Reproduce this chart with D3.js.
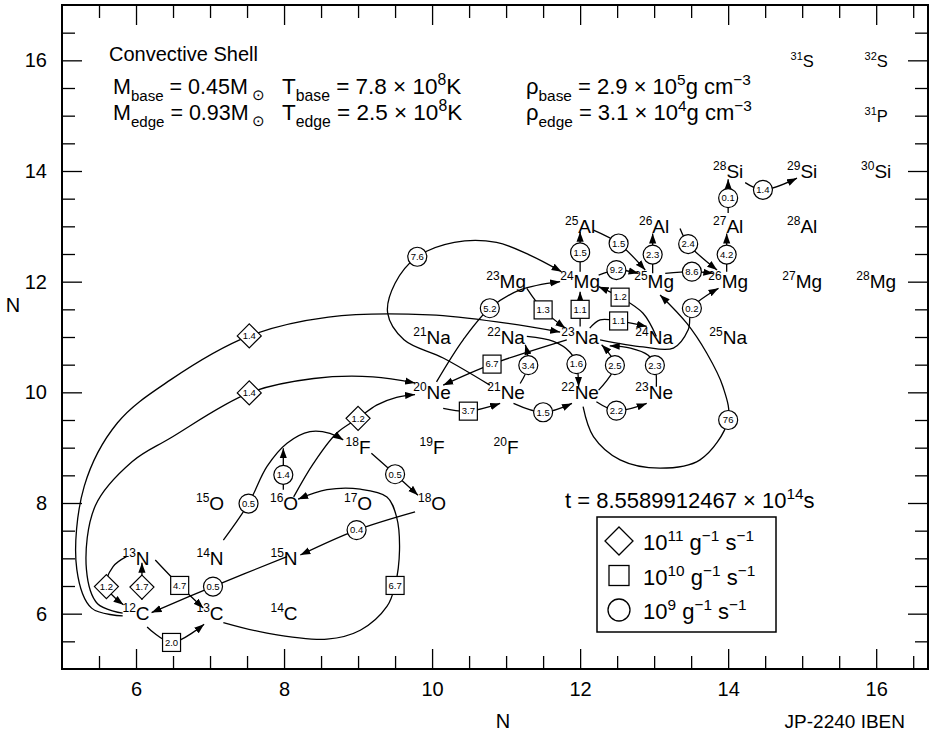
<!DOCTYPE html>
<html>
<head>
<meta charset="utf-8">
<script src="https://cdn.jsdelivr.net/npm/d3@7"></script>
<style>
  body { margin: 0; background: #fff; }
  svg { display: block; }
  text { font-family: "Liberation Sans", Arial, Helvetica, sans-serif; fill: #000; }
</style>
</head>
<body>
<svg id="chart" width="944" height="745"></svg>
<script>
// ---- nuclides on the chart: [mass number, element, N (neutrons), Z (protons)]
const nuclides = [
  [12, "C", 6, 6], [13, "C", 7, 6], [14, "C", 8, 6],
  [13, "N", 6, 7], [14, "N", 7, 7], [15, "N", 8, 7],
  [15, "O", 7, 8], [16, "O", 8, 8], [17, "O", 9, 8], [18, "O", 10, 8],
  [18, "F", 9, 9], [19, "F", 10, 9], [20, "F", 11, 9],
  [20, "Ne", 10, 10], [21, "Ne", 11, 10], [22, "Ne", 12, 10], [23, "Ne", 13, 10],
  [21, "Na", 10, 11], [22, "Na", 11, 11], [23, "Na", 12, 11], [24, "Na", 13, 11], [25, "Na", 14, 11],
  [23, "Mg", 11, 12], [24, "Mg", 12, 12], [25, "Mg", 13, 12], [26, "Mg", 14, 12], [27, "Mg", 15, 12], [28, "Mg", 16, 12],
  [25, "Al", 12, 13], [26, "Al", 13, 13], [27, "Al", 14, 13], [28, "Al", 15, 13],
  [28, "Si", 14, 14], [29, "Si", 15, 14], [30, "Si", 16, 14],
  [31, "P", 16, 15],
  [31, "S", 15, 16], [32, "S", 16, 16]
];

// ---- reaction flows: [from, to, rate class, rate value]
// rate class: "d" = 1e11 g^-1 s^-1, "s" = 1e10, "c" = 1e9
const flows = [
  ["12C", "13N", "d", 1.7],
  ["13N", "12C", "d", 1.2],
  ["13N", "13C", "s", 4.7],
  ["12C", "13C", "s", 2.0],
  ["15N", "12C", "c", 0.5],
  ["18O", "15N", "c", 0.4],
  ["13C", "16O", "s", 6.7],
  ["14N", "18F", "c", 0.5],
  ["16O", "17F", "c", 1.4],
  ["16O", "20Ne", "d", 1.2],
  ["18F", "18O", "c", 0.5],
  ["12C", "23Na", "d", 1.4],
  ["12C", "20Ne", "d", 1.4],
  ["20Ne", "21Ne", "s", 3.7],
  ["21Ne", "22Ne", "c", 1.5],
  ["22Ne", "23Ne", "c", 2.2],
  ["21Ne", "22Na", "c", 3.4],
  ["22Na", "22Ne", "c", 1.6],
  ["23Na", "20Ne", "s", 6.7],
  ["20Ne", "24Mg", "c", 5.2],
  ["21Ne", "24Mg", "c", 7.6],
  ["23Mg", "23Na", "s", 1.3],
  ["23Na", "24Mg", "s", 1.1],
  ["24Mg", "25Al", "c", 1.5],
  ["25Al", "25Mg", "c", 1.5],
  ["24Mg", "25Mg", "c", 9.2],
  ["24Na", "24Mg", "s", 1.2],
  ["23Na", "24Na", "s", 1.1],
  ["22Ne", "23Na", "c", 2.5],
  ["23Ne", "23Na", "c", 2.3],
  ["23Na", "26Mg", "c", 0.2],
  ["22Ne", "25Mg", "c", 76],
  ["25Mg", "26Al", "c", 2.3],
  ["26Al", "26Mg", "c", 2.4],
  ["25Mg", "26Mg", "c", 8.6],
  ["26Mg", "27Al", "c", 4.2],
  ["27Al", "28Si", "c", 0.1],
  ["28Si", "29Si", "c", 1.4]
];

// ---- axis ticks
const xMajorTicks = [6, 8, 10, 12, 14, 16];
const yMajorTicks = [6, 8, 10, 12, 14, 16];

// ---- legend entries
const legendKinds = ["d", "s", "c"];
const legendExponents = ["11", "10", "9"];

// ---- route of each flow arrow in (N, Z) units; "at" = index of the point carrying the rate badge
const routes = {
  "12C>13N": { at: 1, pts: [[6.08, 6.25], [6.08, 6.48], [6.08, 6.92]] },
  "13N>12C": { at: 2, pts: [[5.87, 7.03], [5.69, 6.85], [5.60, 6.49], [5.83, 6.16]] },
  "13N>13C": { at: 1, pts: [[6.26, 6.97], [6.59, 6.51], [6.91, 6.10]] },
  "12C>13C": { at: 1, pts: [[6.15, 5.76], [6.48, 5.48], [6.92, 5.81]] },
  "15N>12C": { at: 1, pts: [[8.04, 7.03], [7.04, 6.49], [6.21, 6.02]] },
  "18O>15N": { at: 1, pts: [[9.77, 7.84], [8.98, 7.51], [8.22, 7.06]] },
  "13C>16O": { at: 5, pts: [[7.18, 5.84], [7.77, 5.65], [8.58, 5.54], [9.03, 5.70], [9.39, 6.13], [9.50, 6.51],
                            [9.56, 7.15], [9.52, 7.75], [9.39, 8.11], [9.03, 8.25], [8.58, 8.24], [8.19, 8.07]] },
  "14N>18F": { at: 1, pts: [[7.18, 7.33], [7.52, 7.99], [7.77, 8.66], [8.04, 9.08], [8.35, 9.29], [8.62, 9.26], [8.80, 9.14]] },
  "16O>17F": { at: 1, pts: [[7.99, 8.24], [7.99, 8.51], [7.99, 8.99]] },
  "16O>20Ne": { at: 3, pts: [[8.13, 8.11], [8.40, 8.72], [8.71, 9.26], [9.00, 9.53], [9.25, 9.77], [9.52, 9.91], [9.77, 9.96]] },
  "18F>18O": { at: 1, pts: [[9.18, 8.90], [9.50, 8.52], [9.81, 8.14]] },
  "12C>23Na": { at: 6, pts: [[5.82, 5.96], [5.40, 6.10], [5.20, 6.80], [5.30, 8.30], [5.75, 9.45], [6.46, 10.22],
                             [7.53, 11.02], [8.60, 11.36], [9.97, 11.40], [11.0, 11.25], [11.73, 11.09]] },
  "12C>20Ne": { at: 6, pts: [[5.82, 6.01], [5.48, 6.18], [5.33, 6.80], [5.45, 7.95], [5.95, 8.75], [6.46, 9.17],
                             [7.53, 9.99], [8.40, 10.25], [9.20, 10.28], [9.77, 10.17]] },
  "20Ne>21Ne": { at: 1, pts: [[10.15, 9.71], [10.49, 9.66], [10.92, 9.80]] },
  "21Ne>22Ne": { at: 1, pts: [[11.10, 9.80], [11.50, 9.64], [11.89, 9.80]] },
  "22Ne>23Ne": { at: 1, pts: [[12.22, 9.83], [12.49, 9.67], [12.90, 9.80]] },
  "21Ne>22Na": { at: 1, pts: [[11.19, 10.16], [11.30, 10.49], [11.26, 10.86]] },
  "22Na>22Ne": { at: 3, pts: [[11.28, 11.01], [11.64, 10.92], [11.86, 10.73], [11.95, 10.51], [11.98, 10.10]] },
  "23Na>20Ne": { at: 1, pts: [[11.82, 10.95], [10.81, 10.51], [10.15, 10.13]] },
  "20Ne>24Mg": { at: 2, pts: [[10.06, 10.19], [10.42, 10.95], [10.78, 11.52], [11.19, 11.85], [11.73, 12.00]] },
  "21Ne>24Mg": { at: 5, pts: [[10.78, 10.13], [10.15, 10.62], [9.62, 10.95], [9.40, 11.43], [9.50, 11.97], [9.80, 12.45],
                              [10.30, 12.71], [10.87, 12.71], [11.32, 12.48], [11.75, 12.18]] },
  "23Mg>23Na": { at: 1, pts: [[11.28, 11.88], [11.50, 11.49], [11.80, 11.16]] },
  "23Na>24Mg": { at: 1, pts: [[12.0, 11.19], [12.0, 11.50], [12.0, 11.82]] },
  "24Mg>25Al": { at: 1, pts: [[12.0, 12.18], [12.0, 12.53], [12.0, 12.90]] },
  "25Al>25Mg": { at: 1, pts: [[12.18, 12.93], [12.52, 12.69], [12.88, 12.21]] },
  "24Mg>25Mg": { at: 1, pts: [[12.25, 12.12], [12.49, 12.21], [12.79, 12.15]] },
  "24Na>24Mg": { at: 2, pts: [[13.03, 11.01], [12.85, 11.43], [12.54, 11.72], [12.25, 11.91]] },
  "23Na>24Na": { at: 2, pts: [[12.13, 11.16], [12.27, 11.31], [12.52, 11.29], [12.90, 11.19]] },
  "22Ne>23Na": { at: 1, pts: [[12.25, 10.04], [12.47, 10.49], [12.29, 10.86]] },
  "23Ne>23Na": { at: 1, pts: [[13.03, 10.10], [13.01, 10.49], [12.92, 10.67], [12.68, 10.80], [12.40, 10.84]] },
  "23Na>26Mg": { at: 4, pts: [[12.27, 10.95], [12.85, 10.82], [13.26, 10.80], [13.46, 11.13], [13.51, 11.52], [13.87, 11.88]] },
  "22Ne>25Mg": { at: 5, pts: [[12.04, 9.74], [12.18, 9.20], [12.54, 8.78], [13.08, 8.63], [13.62, 8.78], [14.00, 9.50],
                              [13.93, 10.10], [13.71, 10.71], [13.44, 11.25], [13.08, 11.76]] },
  "25Mg>26Al": { at: 1, pts: [[12.98, 12.15], [12.98, 12.49], [12.98, 12.87]] },
  "26Al>26Mg": { at: 1, pts: [[13.35, 12.96], [13.46, 12.68], [13.85, 12.21]] },
  "25Mg>26Mg": { at: 1, pts: [[13.15, 12.15], [13.51, 12.18], [13.80, 12.15]] },
  "26Mg>27Al": { at: 1, pts: [[13.98, 12.18], [13.98, 12.49], [13.98, 12.87]] },
  "27Al>28Si": { at: 1, pts: [[14.0, 13.24], [14.0, 13.51], [14.0, 13.85]] },
  "28Si>29Si": { at: 1, pts: [[14.23, 13.79], [14.47, 13.66], [14.93, 13.87]] }
};

// ---- layout
const W = 944, H = 745;
const plot = { left: 62, right: 928, top: 5, bottom: 669 };
const x = d3.scaleLinear().domain([5, 16.7]).range([plot.left, plot.right]);
const y = d3.scaleLinear().domain([5, 17]).range([plot.bottom, plot.top]);

const svg = d3.select("#chart");
svg.append("rect").attr("width", W).attr("height", H).attr("fill", "#fff");

// arrowhead
svg.append("defs").append("marker")
  .attr("id", "head").attr("markerUnits", "userSpaceOnUse")
  .attr("viewBox", "0 -4 10 8").attr("refX", 10).attr("refY", 0)
  .attr("markerWidth", 10).attr("markerHeight", 8).attr("orient", "auto")
  .append("path").attr("d", "M0,-3.6L10,0L0,3.6Z").attr("fill", "#000");

// ---- axes: major ticks with labels, minor ticks every 0.5, drawn inward on all four sides
const minorX = d3.range(5.5, 16.7, 0.5).filter(v => !xMajorTicks.includes(v));
const minorY = d3.range(5.5, 17, 0.5).filter(v => !yMajorTicks.includes(v));
const axisFont = 20;

function styleAxis(g) {
  g.select(".domain").remove();
  g.selectAll(".tick line").attr("stroke", "#000").attr("stroke-width", 1.3);
  g.selectAll(".tick text").attr("font-size", axisFont).attr("font-family", "Liberation Sans, Arial, sans-serif");
}
svg.append("g").attr("transform", `translate(0,${plot.bottom})`)
  .call(d3.axisBottom(x).tickValues(xMajorTicks).tickSize(-20).tickPadding(13).tickFormat(d3.format("d"))).call(styleAxis);
svg.append("g").attr("transform", `translate(0,${plot.bottom})`)
  .call(d3.axisBottom(x).tickValues(minorX).tickSize(-13).tickFormat("")).call(styleAxis);
svg.append("g").attr("transform", `translate(0,${plot.top})`)
  .call(d3.axisTop(x).tickValues(xMajorTicks).tickSize(-20).tickFormat("")).call(styleAxis);
svg.append("g").attr("transform", `translate(0,${plot.top})`)
  .call(d3.axisTop(x).tickValues(minorX).tickSize(-13).tickFormat("")).call(styleAxis);
svg.append("g").attr("transform", `translate(${plot.left},0)`)
  .call(d3.axisLeft(y).tickValues(yMajorTicks).tickSize(-20).tickPadding(15).tickFormat(d3.format("d"))).call(styleAxis);
svg.append("g").attr("transform", `translate(${plot.left},0)`)
  .call(d3.axisLeft(y).tickValues(minorY).tickSize(-13).tickFormat("")).call(styleAxis);
svg.append("g").attr("transform", `translate(${plot.right},0)`)
  .call(d3.axisRight(y).tickValues(yMajorTicks).tickSize(-20).tickFormat("")).call(styleAxis);
svg.append("g").attr("transform", `translate(${plot.right},0)`)
  .call(d3.axisRight(y).tickValues(minorY).tickSize(-13).tickFormat("")).call(styleAxis);

svg.append("rect")
  .attr("x", plot.left).attr("y", plot.top)
  .attr("width", plot.right - plot.left).attr("height", plot.bottom - plot.top)
  .attr("fill", "none").attr("stroke", "#000").attr("stroke-width", 2);

// axis titles and credit
svg.append("text").attr("x", 13).attr("y", 312).attr("text-anchor", "middle").attr("font-size", 20).text("N");
svg.append("text").attr("x", 503).attr("y", 728).attr("text-anchor", "middle").attr("font-size", 20).text("N");
svg.append("text").attr("x", 905).attr("y", 728).attr("text-anchor", "end").attr("font-size", 19).text("JP-2240 IBEN");

// ---- flow arrows
const line = d3.line().x(d => x(d[0])).y(d => y(d[1])).curve(d3.curveCatmullRom.alpha(0.5));
const flowData = flows.map(f => ({ from: f[0], to: f[1], kind: f[2], rate: f[3], route: routes[f[0] + ">" + f[1]] }));

const arrows = svg.append("g");
arrows.selectAll("path").data(flowData).join("path")
  .attr("d", d => line(d.route.pts))
  .attr("fill", "none").attr("stroke", "#000").attr("stroke-width", 1.3)
  .attr("marker-end", "url(#head)");

// ---- rate badges
const badgeShape = {
  d: g => g.append("path").attr("d", "M0,-12L12,0L0,12L-12,0Z"),
  s: g => g.append("rect").attr("x", -9).attr("y", -9).attr("width", 18).attr("height", 18),
  c: g => g.append("circle").attr("r", 9.5)
};
const fmtRate = v => (v < 10 ? v.toFixed(1) : String(v));

const badges = svg.append("g").selectAll("g").data(flowData).join("g")
  .attr("transform", d => {
    const p = d.route.pts[d.route.at];
    return `translate(${x(p[0])},${y(p[1])})`;
  });
badges.each(function (d) {
  const g = d3.select(this);
  badgeShape[d.kind](g).attr("fill", "#fff").attr("stroke", "#000").attr("stroke-width", 1.2);
  g.append("text").attr("text-anchor", "middle").attr("dy", "0.35em")
    .attr("font-size", 9.5).text(fmtRate(d.rate));
});

// ---- nuclide labels (the sulfur/phosphorus row is set a little smaller)
const isSmall = d => d[3] >= 15;
const nucLabels = svg.append("g").selectAll("text").data(nuclides).join("text")
  .attr("x", d => x(d[2]))
  .attr("y", d => y(d[3]) + 6.5)
  .attr("text-anchor", "middle")
  .attr("font-size", d => (isSmall(d) ? 16.5 : 19));
nucLabels.append("tspan").attr("dy", d => (isSmall(d) ? -7 : -8))
  .attr("font-size", d => (isSmall(d) ? 11 : 12)).text(d => d[0]);
nucLabels.append("tspan").attr("dy", d => (isSmall(d) ? 7 : 8)).text(d => d[1]);

// ---- shell conditions block
function richText(g, xPos, yPos, size, parts) {
  const t = g.append("text").attr("x", xPos).attr("y", yPos).attr("font-size", size);
  let shift = 0;
  parts.forEach(p => {
    const [str, kind] = typeof p === "string" ? [p, "n"] : p;
    const target = kind === "sub" ? 7 : kind === "sup" ? -9 : 0;
    t.append("tspan").attr("dy", target - shift)
      .attr("font-size", kind === "n" ? size : size * 0.7).text(str);
    shift = target;
  });
  return t;
}
const info = svg.append("g");
info.append("text").attr("x", 109).attr("y", 61).attr("font-size", 20).text("Convective Shell");

const rowY = [94, 120];
const massRows = [["base", "0.45"], ["edge", "0.93"]];
const tempRows = [["base", "7.8", "8"], ["edge", "2.5", "8"]];
const rhoRows = [["base", "2.9", "5"], ["edge", "3.1", "4"]];
rowY.forEach((ry, i) => {
  richText(info, 113, ry, 21.5, ["M", [massRows[i][0], "sub"], " = " + massRows[i][1] + "M"]);
  info.append("text").attr("x", 258).attr("y", ry + 6).attr("text-anchor", "middle")
    .attr("font-size", 15).attr("font-family", "DejaVu Sans").text("\u2299");
  richText(info, 282, ry, 22.5, ["T", [tempRows[i][0], "sub"], " = " + tempRows[i][1] + " \u00d7 10", [tempRows[i][2], "sup"], "K"]);
  richText(info, 526, ry, 22, ["\u03c1", [rhoRows[i][0], "sub"], " = " + rhoRows[i][1] + " \u00d7 10", [rhoRows[i][2], "sup"], "g cm", ["\u22123", "sup"]]);
});

// ---- time stamp and legend
richText(svg, 565, 508, 22, ["t = 8.5589912467 \u00d7 10", ["14", "sup"], "s"]);
const lg = { x: 597, y: 517, w: 179, h: 115, row: 34.5 };
svg.append("rect").attr("x", lg.x).attr("y", lg.y).attr("width", lg.w).attr("height", lg.h)
  .attr("fill", "#fff").attr("stroke", "#000").attr("stroke-width", 1.5);
const legendShape = {
  d: g => g.append("path").attr("d", "M0,-14L14,0L0,14L-14,0Z"),
  s: g => g.append("rect").attr("x", -10).attr("y", -10).attr("width", 20).attr("height", 20),
  c: g => g.append("circle").attr("r", 11)
};
legendKinds.forEach((k, i) => {
  const cy = lg.y + 24 + i * lg.row;
  const g = svg.append("g").attr("transform", `translate(${lg.x + 22},${cy})`);
  legendShape[k](g).attr("fill", "#fff").attr("stroke", "#000").attr("stroke-width", 1.3);
  richText(svg, lg.x + 46, cy + 9, 22, ["10", [legendExponents[i], "sup"], " g", ["\u22121", "sup"], " s", ["\u22121", "sup"]]);
});
</script>
</body>
</html>
